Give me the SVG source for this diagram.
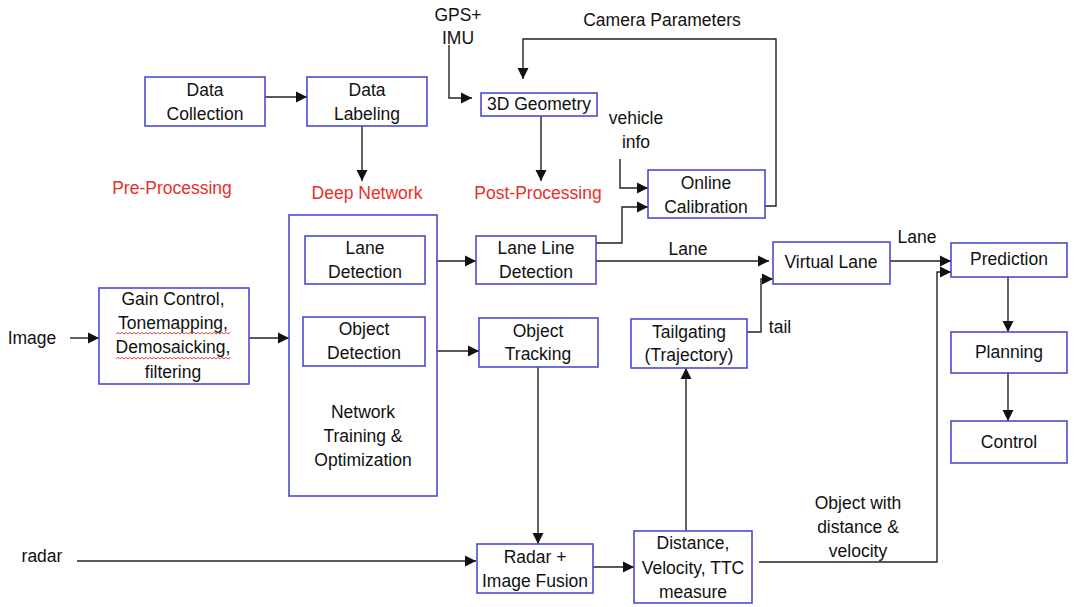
<svg xmlns="http://www.w3.org/2000/svg" width="1080" height="607" viewBox="0 0 1080 607">
<defs>
<marker id="ah" markerUnits="userSpaceOnUse" markerWidth="12" markerHeight="12" refX="11" refY="6" orient="auto">
<path d="M0,0.5 L11,6 L0,11.5 z" fill="#111"/>
</marker>
<style>
.box{fill:#fff;stroke:#4b4bcf;stroke-width:1.6}
.t{font-family:"Liberation Sans",Arial,sans-serif;font-size:17.5px;fill:#111;text-anchor:middle;dominant-baseline:central}
.r{fill:#e8302a}
.c{fill:none;stroke:#222;stroke-width:1.4}
.a{marker-end:url(#ah)}
.sq{fill:none;stroke:#e03030;stroke-width:0.9}
</style>
</defs>
<rect width="1080" height="607" fill="#fff"/>

<g id="connectors">
<path class="c a" d="M265,97 H307"/>
<path class="c a" d="M362,126 V181"/>
<path class="c a" d="M449,45 V98 H472"/>
<path class="c a" d="M765,206 H776 V39 H523 V79"/>
<path class="c a" d="M541,116 V181"/>
<path class="c a" d="M620,159 V188 H648"/>
<path class="c a" d="M596,243 H622 V207 H648"/>
<path class="c a" d="M70,338 H99"/>
<path class="c a" d="M249,338 H289"/>
<path class="c a" d="M425,261 H476"/>
<path class="c a" d="M596,261 H769"/>
<path class="c a" d="M425,351 H479"/>
<path class="c a" d="M747,332 H761 V279 H773"/>
<path class="c a" d="M538,367 V544"/>
<path class="c a" d="M77,561 H476"/>
<path class="c a" d="M593,567 H634"/>
<path class="c a" d="M686,531 V368"/>
<path class="c a" d="M759,562 H937 V272 H951"/>
<path class="c a" d="M890,261 H951"/>
<path class="c a" d="M1008,277 V332"/>
<path class="c a" d="M1008,373 V421"/>
</g>

<g id="labels">
<text class="t" x="458" y="15">GPS+</text>
<text class="t" x="458" y="38">IMU</text>
<text class="t" x="662" y="20">Camera Parameters</text>
<text class="t" x="636" y="118">vehicle</text>
<text class="t" x="636" y="142">info</text>
<text class="t r" x="172" y="188">Pre-Processing</text>
<text class="t r" x="367" y="193">Deep Network</text>
<text class="t r" x="538" y="193">Post-Processing</text>
<text class="t" x="32" y="338">Image</text>
<text class="t" x="42" y="556">radar</text>
<text class="t" x="688" y="249">Lane</text>
<text class="t" x="917" y="237">Lane</text>
<text class="t" x="780" y="327">tail</text>
<text class="t" x="858" y="503">Object with</text>
<text class="t" x="858" y="527">distance &amp;</text>
<text class="t" x="858" y="551">velocity</text>
</g>

<g id="data-collection">
<rect class="box" x="145" y="77" width="120" height="49"/>
<text class="t" x="205" y="90">Data</text>
<text class="t" x="205" y="114">Collection</text>
</g>
<g id="data-labeling">
<rect class="box" x="307" y="77" width="120" height="49"/>
<text class="t" x="367" y="90">Data</text>
<text class="t" x="367" y="114">Labeling</text>
</g>
<g id="geometry-3d">
<rect class="box" x="481" y="93" width="116" height="23"/>
<text class="t" x="539" y="104">3D Geometry</text>
</g>
<g id="online-calibration">
<rect class="box" x="648" y="170" width="117" height="48"/>
<text class="t" x="706" y="183">Online</text>
<text class="t" x="706" y="207">Calibration</text>
</g>
<g id="gain-control">
<rect class="box" x="99" y="288" width="150" height="96"/>
<text class="t" x="173" y="299">Gain Control,</text>
<text class="t" x="173" y="323">Tonemapping,</text>
<text class="t" x="173" y="347">Demosaicking,</text>
<text class="t" x="173" y="372">filtering</text>
<path class="sq" d="M116,334 l2,-1.6 l2,1.6 l2,-1.6 l2,1.6 l2,-1.6 l2,1.6 l2,-1.6 l2,1.6 l2,-1.6 l2,1.6 l2,-1.6 l2,1.6 l2,-1.6 l2,1.6 l2,-1.6 l2,1.6 l2,-1.6 l2,1.6 l2,-1.6 l2,1.6 l2,-1.6 l2,1.6 l2,-1.6 l2,1.6 l2,-1.6 l2,1.6 l2,-1.6 l2,1.6 l2,-1.6 l2,1.6 l2,-1.6 l2,1.6 l2,-1.6 l2,1.6 l2,-1.6 l2,1.6 l2,-1.6 l2,1.6 l2,-1.6 l2,1.6 l2,-1.6 l2,1.6 l2,-1.6 l2,1.6 l2,-1.6 l2,1.6 l2,-1.6 l2,1.6 l2,-1.6 l2,1.6 l2,-1.6 l2,1.6 l2,-1.6 l2,1.6 l2,-1.6 l2,1.6 l2,-1.6"/>
<path class="sq" d="M116,359 l2,-1.6 l2,1.6 l2,-1.6 l2,1.6 l2,-1.6 l2,1.6 l2,-1.6 l2,1.6 l2,-1.6 l2,1.6 l2,-1.6 l2,1.6 l2,-1.6 l2,1.6 l2,-1.6 l2,1.6 l2,-1.6 l2,1.6 l2,-1.6 l2,1.6 l2,-1.6 l2,1.6 l2,-1.6 l2,1.6 l2,-1.6 l2,1.6 l2,-1.6 l2,1.6 l2,-1.6 l2,1.6 l2,-1.6 l2,1.6 l2,-1.6 l2,1.6 l2,-1.6 l2,1.6 l2,-1.6 l2,1.6 l2,-1.6 l2,1.6 l2,-1.6 l2,1.6 l2,-1.6 l2,1.6 l2,-1.6 l2,1.6 l2,-1.6 l2,1.6 l2,-1.6 l2,1.6 l2,-1.6 l2,1.6 l2,-1.6 l2,1.6 l2,-1.6 l2,1.6 l2,-1.6"/>
</g>
<g id="deep-network">
<rect class="box" x="289" y="215" width="148" height="281"/>
<text class="t" x="363" y="412">Network</text>
<text class="t" x="363" y="436">Training &amp;</text>
<text class="t" x="363" y="460">Optimization</text>
</g>
<g id="lane-detection">
<rect class="box" x="305" y="236" width="120" height="48"/>
<text class="t" x="365" y="248">Lane</text>
<text class="t" x="365" y="272">Detection</text>
</g>
<g id="object-detection">
<rect class="box" x="303" y="317" width="122" height="49"/>
<text class="t" x="364" y="329">Object</text>
<text class="t" x="364" y="353">Detection</text>
</g>
<g id="lane-line-detection">
<rect class="box" x="476" y="236" width="120" height="48"/>
<text class="t" x="536" y="248">Lane Line</text>
<text class="t" x="536" y="272">Detection</text>
</g>
<g id="object-tracking">
<rect class="box" x="479" y="318" width="119" height="49"/>
<text class="t" x="538" y="331">Object</text>
<text class="t" x="538" y="354">Tracking</text>
</g>
<g id="tailgating">
<rect class="box" x="631" y="319" width="116" height="49"/>
<text class="t" x="689" y="332">Tailgating</text>
<text class="t" x="689" y="355">(Trajectory)</text>
</g>
<g id="virtual-lane">
<rect class="box" x="773" y="242" width="117" height="42"/>
<text class="t" x="831" y="262">Virtual Lane</text>
</g>
<g id="radar-image-fusion">
<rect class="box" x="477" y="544" width="116" height="49"/>
<text class="t" x="535" y="557">Radar +</text>
<text class="t" x="535" y="581">Image Fusion</text>
</g>
<g id="distance-velocity">
<rect class="box" x="634" y="531" width="118" height="72"/>
<text class="t" x="693" y="543">Distance,</text>
<text class="t" x="693" y="568">Velocity, TTC</text>
<text class="t" x="693" y="592">measure</text>
</g>
<g id="prediction">
<rect class="box" x="951" y="243" width="116" height="34"/>
<text class="t" x="1009" y="259">Prediction</text>
</g>
<g id="planning">
<rect class="box" x="951" y="332" width="116" height="41"/>
<text class="t" x="1009" y="352">Planning</text>
</g>
<g id="control">
<rect class="box" x="951" y="421" width="116" height="42"/>
<text class="t" x="1009" y="442">Control</text>
</g>
</svg>
